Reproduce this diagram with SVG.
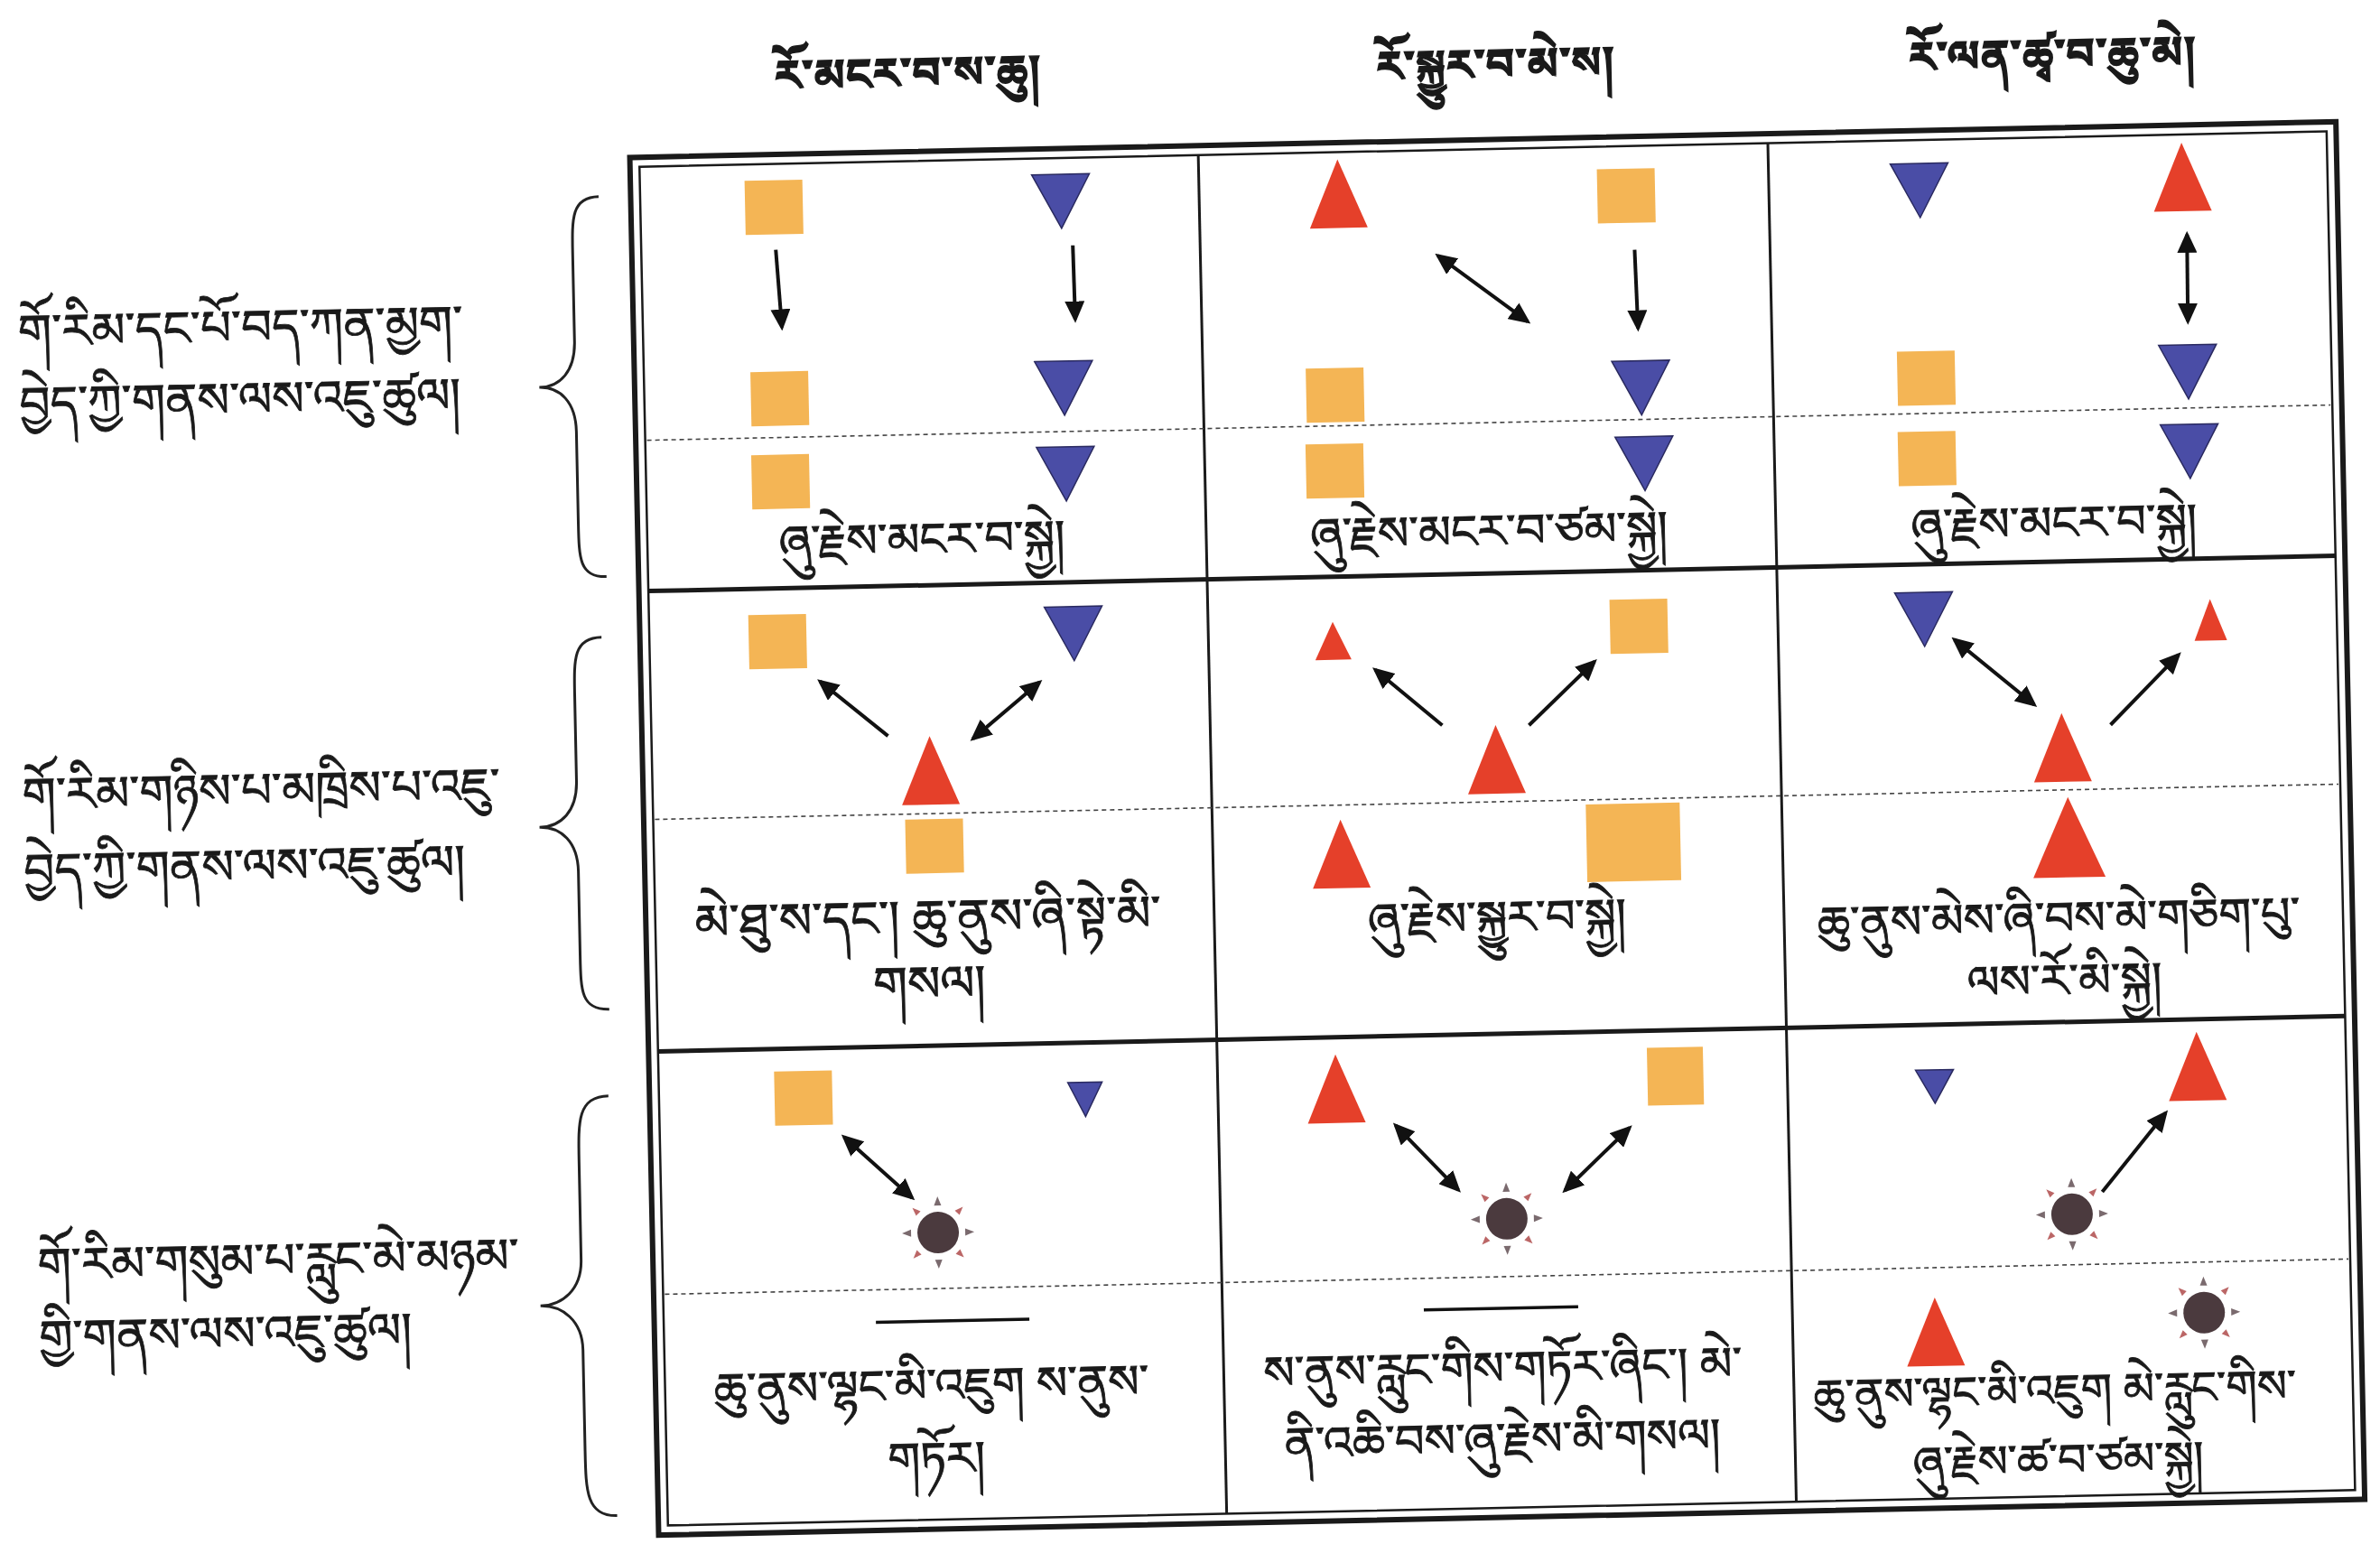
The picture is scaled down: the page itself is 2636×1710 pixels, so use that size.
<svg xmlns="http://www.w3.org/2000/svg" xmlns:xlink="http://www.w3.org/1999/xlink" width="2636" height="1710" viewBox="0 0 2636 1710">
<style>
text{font-family:"Noto Serif Tibetan","Jomolhari","Tibetan Machine Uni","Noto Sans Tibetan","Microsoft Himalaya","DejaVu Sans",sans-serif;fill:#1a1a1a;stroke:#1a1a1a}
.hd{font-size:48px;font-weight:bold;text-anchor:middle;stroke-width:1.4}
.lb{font-size:53px;stroke-width:0.8}
.cp{font-size:51px;text-anchor:middle;stroke-width:0.9}
.sq{fill:#F4B555}
.rt{fill:#E5402A}
.bt{fill:#4A4DA6;stroke:#2a2a60;stroke-width:1.5}
.ar{stroke:#111;stroke-width:4;fill:none;marker-end:url(#ah)}
.da{stroke:#111;stroke-width:4;fill:none;marker-end:url(#ah);marker-start:url(#ah)}
.grid{stroke:#1a1a1a;fill:none}
.dash{stroke:#444;stroke-width:1.6;stroke-dasharray:5 4;fill:none}
.brace{stroke:#222;stroke-width:3;fill:none}
</style>
<defs>
<marker id="ah" viewBox="0 0 24 22" refX="20" refY="11" markerWidth="24" markerHeight="22" markerUnits="userSpaceOnUse" orient="auto-start-reverse">
<path d="M0 0 L24 11 L0 22 Z" fill="#111"/>
</marker>
<rect id="sq" class="sq" width="64" height="60"/>
<path id="bt" class="bt" d="M0 0 H64 L32 60 Z"/>
<path id="rt" class="rt" d="M32 0 L64 76 H0 Z"/>
<g id="sun">
<circle r="23" fill="#4B3A3E"/>
<g fill="#7a6a6e">
<path d="M-4 -30 L4 -30 L0 -40 Z"/>
<path d="M-4 30 L4 30 L0 40 Z"/>
<path d="M-30 -4 L-30 4 L-40 0 Z"/>
<path d="M30 -4 L30 4 L40 0 Z"/>
<path d="M-24 -19 L-19 -24 L-28 -28 Z" fill="#b66"/>
<path d="M24 -19 L19 -24 L28 -28 Z" fill="#b66"/>
<path d="M-24 19 L-19 24 L-28 28 Z" fill="#b66"/>
<path d="M24 19 L19 24 L28 28 Z" fill="#b66"/>
</g>
</g>
</defs>
<rect width="2636" height="1710" fill="#ffffff"/>
<g transform="rotate(-1.2 695 172)">
<!-- headers -->
<g id="headers">
<text class="hd" x="1007" y="104">རོ་མངར་བ་ས་ཆུ།</text>
<text class="hd" x="1658" y="108">རོ་སྐྱུར་བ་མེ་ས།</text>
<text class="hd" x="2275" y="110">རོ་ལན་ཚྭ་བ་ཆུ་མེ།</text>
</g>
<!-- row labels -->
<g id="label1">
<text class="lb" x="16" y="372">གོ་རིམ་དང་པོ་བད་ཀན་མྱག་</text>
<text class="lb" x="16" y="452">བྱེད་ཀྱི་གནས་ལས་འཇུ་ཚུལ།</text>
<path class="brace" d="M662 217 C632 217 632 240 632 280 L632 377 C632 410 615 427 592 427 C615 427 632 444 632 477 L632 578 C632 618 632 638 662 638"/>
</g>
<g id="label2">
<text class="lb" x="10" y="885">གོ་རིམ་གཉིས་པ་མཁྲིས་པ་འཇུ་</text>
<text class="lb" x="10" y="969">བྱེད་ཀྱི་གནས་ལས་འཇུ་ཚུལ།</text>
<path class="brace" d="M655 705 C624 705 624 728 624 768 L624 864 C624 897 606 914 582 914 C606 914 624 931 624 964 L624 1057 C624 1097 624 1117 655 1117"/>
</g>
<g id="label3">
<text class="lb" x="16" y="1406">གོ་རིམ་གསུམ་པ་རླུང་མེ་མཉམ་</text>
<text class="lb" x="16" y="1486">གྱི་གནས་ལས་འཇུ་ཚུལ།</text>
<path class="brace" d="M652 1213 C618 1213 618 1240 618 1285 L618 1394 C618 1427 596 1444 572 1444 C596 1444 618 1461 618 1494 L618 1606 C618 1650 618 1678 652 1678"/>
</g>
<!-- table frame -->
<g id="table">
<rect class="grid" x="697.5" y="174.5" width="1890" height="1526" stroke-width="6"/>
<rect class="grid" x="708" y="185" width="1869" height="1505" stroke-width="2.5"/>
<line class="grid" x1="1327" y1="185" x2="1327" y2="1690" stroke-width="3"/>
<line class="grid" x1="1958" y1="185" x2="1958" y2="1690" stroke-width="3"/>
<line class="grid" x1="708" y1="655" x2="2577" y2="655" stroke-width="5"/>
<line class="grid" x1="708" y1="1165" x2="2577" y2="1165" stroke-width="5"/>
<line class="dash" x1="710" y1="488" x2="2575" y2="488"/>
<line class="dash" x1="710" y1="908" x2="2575" y2="908"/>
<line class="dash" x1="710" y1="1434" x2="2575" y2="1434"/>
</g>
<!-- row 1 -->
<g id="r1c1">
<use xlink:href="#sq" x="824" y="203"/>
<use xlink:href="#bt" x="1142" y="203"/>
<use xlink:href="#sq" x="826" y="415"/>
<use xlink:href="#bt" x="1141" y="410"/>
<use xlink:href="#sq" x="825" y="507"/>
<use xlink:href="#bt" x="1141" y="505"/>
<text class="cp" x="1012" y="622">ཞུ་རྗེས་མངར་བ་སྐྱེ།</text>
</g>
<g id="r1c2">
<use xlink:href="#rt" x="1449" y="193"/>
<use xlink:href="#sq" x="1768" y="210"/>
<use xlink:href="#sq" x="1441" y="424"/>
<use xlink:href="#bt" x="1780" y="423"/>
<use xlink:href="#sq" x="1439" y="508"/>
<use xlink:href="#bt" x="1782" y="507"/>
<text class="cp" x="1640" y="626">ཞུ་རྗེས་མངར་བ་ཙམ་སྐྱེ།</text>
</g>
<g id="r1c3">
<use xlink:href="#bt" x="2093" y="211"/>
<use xlink:href="#rt" x="2384" y="194"/>
<use xlink:href="#sq" x="2096" y="419"/>
<use xlink:href="#bt" x="2386" y="418"/>
<use xlink:href="#sq" x="2095" y="508"/>
<use xlink:href="#bt" x="2386" y="506"/>
<text class="cp" x="2266" y="630">ཞུ་རྗེས་མངར་བ་སྐྱེ།</text>
</g>
<!-- row 2 -->
<g id="r2c1">
<use xlink:href="#sq" x="818" y="684"/>
<use xlink:href="#bt" x="1146" y="682"/>
<use xlink:href="#rt" x="984" y="822"/>
<use xlink:href="#sq" x="987" y="914"/>
<text class="cp" x="1010" y="1042" style="font-size:54px">མེ་ཐུ་ས་དང་། ཆུ་ནུས་ཞི་སྟེ་མི་</text>
<text class="cp" x="1010" y="1115" style="font-size:54px">གསལ།</text>
</g>
<g id="r2c2">
<path class="rt" d="M1465 705 L1485 747 H1445 Z"/>
<use xlink:href="#sq" x="1772" y="687"/>
<use xlink:href="#rt" x="1611" y="823"/>
<use xlink:href="#rt" x="1437" y="924"/>
<rect class="sq" x="1741" y="913" width="104" height="86"/>
<text class="cp" x="1640" y="1054">ཞུ་རྗེས་སྐྱུར་བ་སྐྱེ།</text>
</g>
<g id="r2c3">
<use xlink:href="#bt" x="2088" y="686"/>
<path class="rt" d="M2437 700 L2455 746 H2419 Z"/>
<use xlink:href="#rt" x="2238" y="823"/>
<path class="rt" d="M2275 916 L2315 1005 H2235 Z"/>
<text class="cp" x="2262" y="1068">ཆུ་ནུས་མེས་ཞི་བས་མེ་གཅིག་པུ་</text>
<text class="cp" x="2267" y="1137">ལས་རོ་མི་སྐྱེ།</text>
</g>
<!-- row 3 -->
<g id="r3c1">
<use xlink:href="#sq" x="836" y="1190"/>
<path class="bt" d="M1161 1209 H1199 L1180 1247 Z"/>
<use xlink:href="#sun" x="1014" y="1372"/>
<line x1="943" y1="1470" x2="1113" y2="1470" stroke="#111" stroke-width="3.5"/>
<text class="cp" x="1003" y="1559">ཆུ་ནུས་ལྷང་མི་འཇུག ས་ནུས་</text>
<text class="cp" x="1007" y="1640">གཏོར།</text>
</g>
<g id="r3c2">
<use xlink:href="#rt" x="1426" y="1184"/>
<rect class="sq" x="1803" y="1184" width="62" height="64"/>
<use xlink:href="#sun" x="1644" y="1370"/>
<line x1="1550" y1="1469" x2="1721" y2="1469" stroke="#111" stroke-width="3.5"/>
<text class="cp" x="1636" y="1553">ས་ནུས་རླུང་གིས་གཏོར་ཞིང་། མེ་</text>
<text class="cp" x="1634" y="1632">ནི་འཆི་བས་ཞུ་རྗེས་མི་གསལ།</text>
</g>
<g id="r3c3">
<path class="bt" d="M2100 1215 H2142 L2121 1252 Z"/>
<use xlink:href="#rt" x="2380" y="1179"/>
<use xlink:href="#sun" x="2270" y="1378"/>
<use xlink:href="#rt" x="2084" y="1467"/>
<use xlink:href="#sun" x="2414" y="1490"/>
<text class="cp" x="2247" y="1590" style="font-size:49px">ཆུ་ནུས་ལྷང་མི་འཇུག མེ་རླུང་གིས་</text>
<text class="cp" x="2249" y="1667" style="font-size:49px">ཞུ་རྗེས་ཚ་བ་ཙམ་སྐྱེ།</text>
</g>
<!-- connectors -->
<g id="connectors">
<line class="ar" x1="857" y1="280" x2="862" y2="366"/>
<line class="ar" x1="1186" y1="282" x2="1187" y2="364"/>
<line class="da" x1="1590" y1="302" x2="1688" y2="377"/>
<line class="ar" x1="1808" y1="300" x2="1810" y2="387"/>
<line class="da" x1="2420" y1="296" x2="2419" y2="392"/>
<line class="ar" x1="970" y1="821" x2="896" y2="759"/>
<line class="da" x1="1064" y1="826" x2="1139" y2="765"/>
<line class="ar" x1="1584" y1="822" x2="1511" y2="759"/>
<line class="ar" x1="1680" y1="824" x2="1754" y2="755"/>
<line class="da" x1="2153" y1="739" x2="2240" y2="813"/>
<line class="ar" x1="2324" y1="837" x2="2401" y2="761"/>
<line class="da" x1="912" y1="1264" x2="986" y2="1333"/>
<line class="da" x1="1523" y1="1264" x2="1591" y2="1337"/>
<line class="da" x1="1709" y1="1340" x2="1782" y2="1272"/>
<line class="ar" x1="2304" y1="1354" x2="2376" y2="1268"/>
</g>
</g>
</svg>
